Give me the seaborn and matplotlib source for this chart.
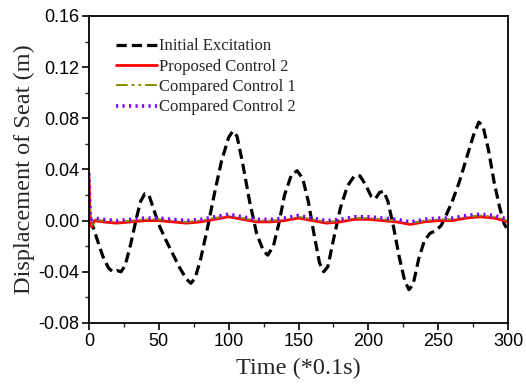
import matplotlib
matplotlib.use("Agg")
import matplotlib.pyplot as plt
from matplotlib.ticker import MultipleLocator
import numpy as np
import pandas as pd
import seaborn as sns

# Seat displacement of the uncontrolled excitation (time in units of 0.1 s)
t_exc = [0, 3, 6, 10, 14, 17, 20, 23, 26, 30, 34, 37, 40, 43, 46, 50, 55, 60, 65, 70,
         73, 76, 80, 85, 90, 95, 100, 103, 106, 110, 115, 120, 125, 128, 132, 136, 140,
         145, 149, 153, 157, 161, 165, 168, 171, 175, 180, 185, 190, 194, 198, 202, 205,
         208, 211, 214, 218, 222, 226, 229, 232, 236, 240, 244, 248, 252, 256, 260, 265,
         270, 275, 279, 282, 286, 290, 294, 297, 300]
y_exc = [0.000, -0.005, -0.015, -0.028, -0.037, -0.040, -0.039, -0.040, -0.035, -0.018,
         0.002, 0.015, 0.021, 0.020, 0.010, -0.003, -0.015, -0.026, -0.037, -0.046,
         -0.049, -0.045, -0.030, -0.005, 0.022, 0.047, 0.065, 0.070, 0.066, 0.045,
         0.015, -0.010, -0.024, -0.027, -0.020, -0.002, 0.020, 0.036, 0.039, 0.033,
         0.015, -0.010, -0.033, -0.040, -0.036, -0.015, 0.010, 0.027, 0.035, 0.035,
         0.028, 0.019, 0.017, 0.022, 0.023, 0.015, -0.005, -0.028, -0.047, -0.054,
         -0.050, -0.030, -0.016, -0.010, -0.008, -0.004, 0.005, 0.015, 0.030, 0.048,
         0.066, 0.077, 0.074, 0.055, 0.030, 0.010, -0.002, -0.008]

# Controlled responses
t_ctrl = [0, 1, 2, 4, 10, 20, 30, 40, 50, 60, 70, 80, 90, 100, 110, 120, 130, 140, 150,
          160, 170, 180, 190, 200, 210, 220, 230, 240, 250, 260, 270, 280, 290, 300]
y_prop2 = [0.035, 0.000, -0.005, 0.000, -0.001, -0.002, -0.001, 0.000, 0.000, -0.001,
           -0.002, -0.001, 0.001, 0.003, 0.001, -0.001, -0.001, 0.000, 0.002, 0.000,
           -0.002, -0.001, 0.001, 0.001, 0.000, -0.001, -0.003, -0.001, 0.000, 0.000,
           0.002, 0.003, 0.002, -0.001]
y_comp1 = [0.036, 0.001, -0.004, 0.001, 0.000, -0.001, 0.000, 0.001, 0.001, 0.000,
           -0.001, 0.000, 0.002, 0.004, 0.002, 0.000, 0.000, 0.001, 0.003, 0.001,
           -0.001, 0.000, 0.002, 0.002, 0.001, 0.000, -0.002, 0.000, 0.001, 0.001,
           0.003, 0.004, 0.003, 0.000]
y_comp2 = [0.037, 0.002, 0.001, 0.002, 0.001, 0.000, 0.001, 0.002, 0.002, 0.001,
           0.000, 0.001, 0.003, 0.005, 0.003, 0.001, 0.001, 0.002, 0.004, 0.002,
           0.000, 0.001, 0.003, 0.003, 0.002, 0.001, -0.001, 0.001, 0.002, 0.002,
           0.004, 0.005, 0.004, 0.001]

labels = ["Initial Excitation", "Proposed Control 2", "Compared Control 1", "Compared Control 2"]
y_ticks = [-0.08, -0.04, 0.00, 0.04, 0.08, 0.12, 0.16]

sns.set_style("ticks")
plt.rcParams["font.family"] = ["Liberation Sans", "DejaVu Sans"]
plt.rcParams["xtick.direction"] = "out"
plt.rcParams["ytick.direction"] = "out"

fig = plt.figure(figsize=(5.26, 3.9), dpi=100)
ax = fig.add_axes([0.169, 0.172, 0.797, 0.787])

sns.lineplot(x=t_exc, y=y_exc, ax=ax, color="black", lw=2.3, label=labels[0],
             linestyle=(0, (3.2, 1.6)))
sns.lineplot(x=t_ctrl, y=y_prop2, ax=ax, color="#ff0000", lw=2.0, label=labels[1])
sns.lineplot(x=t_ctrl, y=y_comp1, ax=ax, color="#8c8c00", lw=1.4, label=labels[2],
             linestyle=(0, (6, 2, 1.5, 2, 1.5, 2)))
sns.lineplot(x=t_ctrl, y=y_comp2, ax=ax, color="#8000ff", lw=2.6, label=labels[3],
             linestyle=(0, (0.6, 1.2)))

ax.set_xlim(0, 300)
ax.set_ylim(-0.08, 0.16)
ax.xaxis.set_major_locator(MultipleLocator(50))
ax.xaxis.set_minor_locator(MultipleLocator(25))
ax.yaxis.set_minor_locator(MultipleLocator(0.02))
ax.set_yticks(y_ticks)
ax.set_yticklabels([f"{v:.2f}" for v in y_ticks])
ax.tick_params(which="major", length=5, width=1.2, labelsize=13, colors="black", pad=2)
ax.tick_params(which="minor", length=3, width=1.0)
for s in ax.spines.values():
    s.set_linewidth(1.3)
    s.set_color("black")

ax.set_xlabel("Time (*0.1s)", fontsize=17.5, family=["Liberation Serif"], labelpad=6)
ax.set_ylabel("Displacement of Seat (m)", fontsize=17.5, family=["Liberation Serif"], labelpad=2)

leg = ax.legend(loc="upper left", frameon=False, handlelength=2.45, handletextpad=0.15,
                labelspacing=0.26, borderpad=0, borderaxespad=0,
                bbox_to_anchor=(0.064, 0.927),
                prop={"family": "Liberation Serif", "size": 12})

fig.savefig("out.png", dpi=100)
